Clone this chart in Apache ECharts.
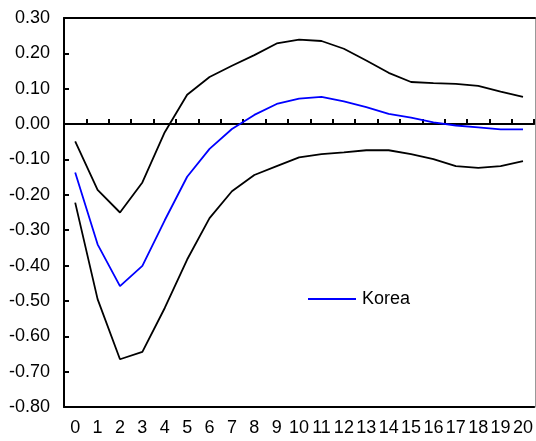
<!DOCTYPE html>
<html>
<head>
<meta charset="utf-8">
<script src="https://cdn.jsdelivr.net/npm/echarts@6/dist/echarts.min.js"></script>
<style>
  html, body { margin: 0; padding: 0; background: #fff; }
  #chart { width: 536px; height: 441px; }
</style>
</head>
<body>
<div id="chart"></div>
<script>
// Horizon (periods) of the impulse response
const periods = ['0','1','2','3','4','5','6','7','8','9','10','11','12','13','14','15','16','17','18','19','20'];

// Point estimate of the response for Korea
const korea = [-0.137, -0.340, -0.458, -0.401, -0.272, -0.149, -0.070, -0.014, 0.026, 0.057,
               0.072, 0.077, 0.064, 0.048, 0.029, 0.018, 0.005, -0.004, -0.009, -0.015, -0.015];

// Upper and lower confidence bands
const upperBand = [-0.049, -0.186, -0.250, -0.165, -0.023, 0.083, 0.133, 0.165, 0.195, 0.228,
                   0.239, 0.235, 0.213, 0.180, 0.145, 0.119, 0.116, 0.114, 0.108, 0.092, 0.077];
const lowerBand = [-0.222, -0.495, -0.665, -0.644, -0.520, -0.383, -0.266, -0.190, -0.144, -0.119,
                   -0.094, -0.085, -0.080, -0.074, -0.074, -0.085, -0.099, -0.119, -0.124, -0.119, -0.105];

// Value axis range and step
const yMin = -0.8, yMax = 0.3, yStep = 0.1;

const font = 'Liberation Sans, Arial, sans-serif';
const gridBox = { left: 64, right: 1, top: 18, bottom: 34 };

const chart = echarts.init(document.getElementById('chart'), null, { renderer: 'canvas' });

chart.setOption({
  animation: false,
  backgroundColor: '#fff',
  grid: [
    Object.assign({ show: false }, gridBox),
    Object.assign({ show: false }, gridBox)
  ],
  legend: {
    data: [{ name: 'Korea', icon: 'rect' }],
    left: 308,
    top: 290,
    padding: 0,
    itemWidth: 48,
    itemHeight: 2,
    itemStyle: { color: '#0000ff' },
    textStyle: { fontFamily: font, fontSize: 18, color: '#000', padding: [0, 0, 0, 1] }
  },
  xAxis: [
    {
      // bottom axis carrying the period labels
      type: 'category', gridIndex: 0, position: 'bottom', data: periods,
      axisLine: { onZero: false, lineStyle: { color: '#000', width: 2 } },
      axisTick: { show: false },
      axisLabel: { fontFamily: font, fontSize: 18, color: '#000', margin: 12, interval: 0 },
      splitLine: { show: false }
    },
    {
      // zero line with short upward ticks
      type: 'category', gridIndex: 0, position: 'top', data: periods,
      axisLine: { onZero: true, lineStyle: { color: '#000', width: 2 } },
      axisTick: { show: true, inside: false, length: 5, lineStyle: { color: '#000', width: 2 } },
      axisLabel: { show: false },
      splitLine: { show: false }
    },
    {
      // top frame line
      type: 'category', gridIndex: 1, position: 'top', data: periods,
      axisLine: { onZero: false, lineStyle: { color: '#000', width: 2 } },
      axisTick: { show: false },
      axisLabel: { show: false },
      splitLine: { show: false }
    }
  ],
  yAxis: [
    {
      type: 'value', gridIndex: 0, position: 'left',
      min: yMin, max: yMax, interval: yStep,
      axisLine: { show: true, lineStyle: { color: '#000', width: 2 } },
      axisTick: { show: true, inside: true, length: 5, lineStyle: { color: '#000', width: 2 } },
      axisLabel: {
        fontFamily: font, fontSize: 18, color: '#000', margin: 14,
        formatter: v => v.toFixed(2)
      },
      splitLine: { show: false }
    },
    {
      // right frame line
      type: 'value', gridIndex: 1, position: 'right',
      min: yMin, max: yMax, interval: yStep,
      axisLine: { show: true, lineStyle: { color: '#999', width: 1 } },
      axisTick: { show: false },
      axisLabel: { show: false },
      splitLine: { show: false }
    }
  ],
  series: [
    {
      name: 'upper', type: 'line', xAxisIndex: 0, yAxisIndex: 0,
      data: upperBand, symbol: 'none', silent: true,
      lineStyle: { color: '#000', width: 1.8 }
    },
    {
      name: 'lower', type: 'line', xAxisIndex: 0, yAxisIndex: 0,
      data: lowerBand, symbol: 'none', silent: true,
      lineStyle: { color: '#000', width: 1.8 }
    },
    {
      name: 'Korea', type: 'line', xAxisIndex: 0, yAxisIndex: 0,
      data: korea, symbol: 'none', color: '#0000ff',
      lineStyle: { color: '#0000ff', width: 1.8 }
    }
  ]
});
</script>
</body>
</html>
